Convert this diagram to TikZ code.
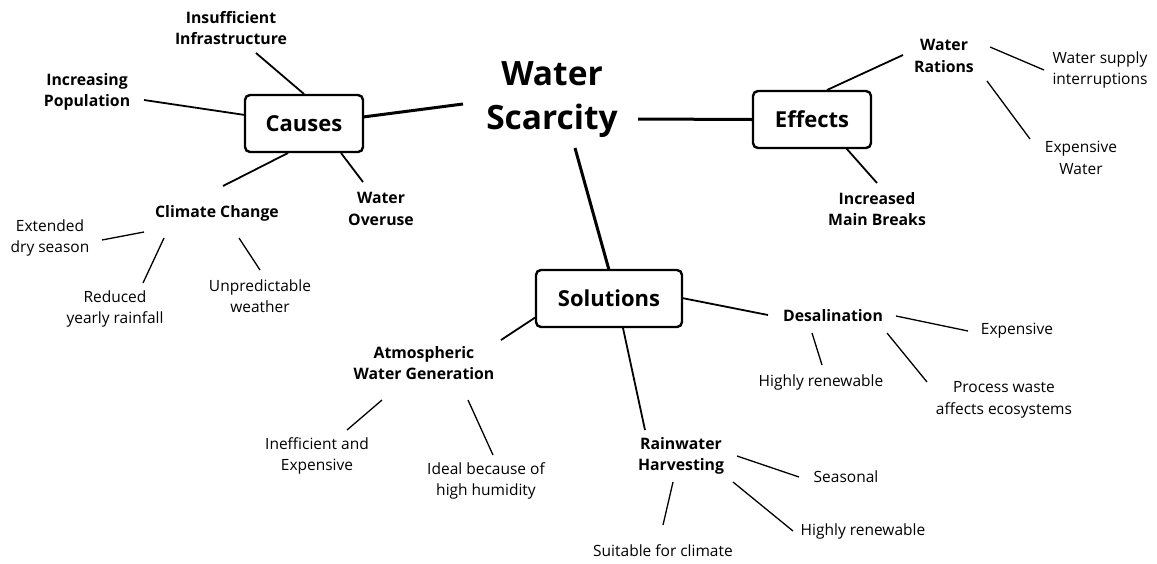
\documentclass[tikz,border=0pt]{standalone}
\usepackage{fontspec}
\setmainfont{Open Sans}
\begin{document}
\begin{tikzpicture}[x=1pt,y=-1pt,
  box/.style={draw, line width=2.4pt, rounded corners=5pt, inner sep=0pt, font=\fontsize{22}{26}\selectfont\bfseries},
  lbl/.style={align=center, inner sep=0pt, font=\fontsize{15.8}{21.5}\selectfont\bfseries},
  txt/.style={align=center, inner sep=0pt, font=\fontsize{15.5}{21.5}\selectfont},
  ttl/.style={align=center, inner sep=0pt, font=\fontsize{33.5}{44}\selectfont\bfseries},
  trunk/.style={line width=3pt},
  branch/.style={line width=1.8pt},
  twig/.style={line width=1.3pt}]
\useasboundingbox[fill=white] (0,0) rectangle (1157,563);
% main nodes
\node[ttl] (ws) at (552,100) {Water\\Scarcity};
\node[box, minimum width=118pt, minimum height=57pt] (causes) at (304,123.5) {Causes};
\node[box, minimum width=118pt, minimum height=57pt] (effects) at (812,119.5) {Effects};
\node[box, minimum width=146pt, minimum height=57pt] (solutions) at (609,298.5) {Solutions};
% causes
\node[lbl] (infra) at (231,28) {Insufficient\\Infrastructure};
\node[lbl] (pop) at (87,92) {Increasing\\Population};
\node[lbl] (climate) at (217,213) {Climate Change};
\node[lbl] (overuse) at (381,209) {Water\\Overuse};
\node[txt] (dry) at (50,238) {Extended\\dry season};
\node[txt] (rain) at (115,309) {Reduced\\yearly rainfall};
\node[txt] (unpred) at (260,296) {Unpredictable\\weather};
% effects
\node[lbl] (rations) at (944,56) {Water\\Rations};
\node[txt] (interr) at (1100,70) {Water supply\\interruptions};
\node[txt] (expw) at (1081,158) {Expensive\\Water};
\node[lbl] (breaks) at (877,209) {Increased\\Main Breaks};
% solutions
\node[lbl] (awg) at (424,363) {Atmospheric\\Water Generation};
\node[txt] (ineff) at (317,456) {Inefficient and\\Expensive};
\node[txt] (ideal) at (486,481) {Ideal because of\\high humidity};
\node[lbl] (desal) at (833,316) {Desalination};
\node[txt] (dexp) at (1017,331) {Expensive};
\node[txt] (dren) at (821,382) {Highly renewable};
\node[txt] (waste) at (1004,400) {Process waste\\affects ecosystems};
\node[lbl] (rwh) at (681,456) {Rainwater\\Harvesting};
\node[txt] (seas) at (846,477) {Seasonal};
\node[txt] (rren) at (863,531) {Highly renewable};
\node[txt] (suit) at (663,551) {Suitable for climate};
% line end points
\coordinate (a1) at (363,117); \coordinate (a2) at (463,104);
\coordinate (b1) at (638,119);
\coordinate (c1) at (575,148); \coordinate (c2) at (609,270);
\coordinate (d1) at (256,53); \coordinate (d2) at (304,94);
\coordinate (e1) at (144,100); \coordinate (e2) at (245,115);
\coordinate (f1) at (288,153); \coordinate (f2) at (223,186);
\coordinate (g1) at (341,153); \coordinate (g2) at (363,182);
\coordinate (h1) at (102,240); \coordinate (h2) at (144,232);
\coordinate (i1) at (164,238); \coordinate (i2) at (143,283);
\coordinate (j1) at (239,238); \coordinate (j2) at (260,270);
\coordinate (k1) at (827,90); \coordinate (k2) at (903,55);
\coordinate (l1) at (990,47); \coordinate (l2) at (1044,70);
\coordinate (m1) at (987,81); \coordinate (m2) at (1030,139);
\coordinate (n1) at (846,148); \coordinate (n2) at (877,183);
\coordinate (o1) at (536,317); \coordinate (o2) at (501,340);
\coordinate (p1) at (382,400); \coordinate (p2) at (347,430);
\coordinate (q1) at (468,400); \coordinate (q2) at (493,455);
\coordinate (r1) at (623,328); \coordinate (r2) at (645,430);
\coordinate (s1) at (682,298); \coordinate (s2) at (768,315);
\coordinate (t1) at (896,316); \coordinate (t2) at (968,331);
\coordinate (u1) at (812,333); \coordinate (u2) at (822,365);
\coordinate (v1) at (887,333); \coordinate (v2) at (927,382);
\coordinate (w1) at (737,456); \coordinate (w2) at (799,477);
\coordinate (x1) at (733,482); \coordinate (x2) at (793,531);
\coordinate (y1) at (673,482); \coordinate (y2) at (663,525);
% connectors
\draw[trunk] (a1) -- (a2);
\draw[trunk] (b1) -- (effects.west);
\draw[trunk] (c1) -- (c2);
\draw[branch] (d1) -- (d2);
\draw[branch] (e1) -- (e2);
\draw[branch] (f1) -- (f2);
\draw[branch] (g1) -- (g2);
\draw[twig] (h1) -- (h2);
\draw[twig] (i1) -- (i2);
\draw[twig] (j1) -- (j2);
\draw[branch] (k1) -- (k2);
\draw[twig] (l1) -- (l2);
\draw[twig] (m1) -- (m2);
\draw[branch] (n1) -- (n2);
\draw[branch] (o1) -- (o2);
\draw[twig] (p1) -- (p2);
\draw[twig] (q1) -- (q2);
\draw[branch] (r1) -- (r2);
\draw[branch] (s1) -- (s2);
\draw[twig] (t1) -- (t2);
\draw[twig] (u1) -- (u2);
\draw[twig] (v1) -- (v2);
\draw[twig] (w1) -- (w2);
\draw[twig] (x1) -- (x2);
\draw[twig] (y1) -- (y2);
\end{tikzpicture}
\end{document}
